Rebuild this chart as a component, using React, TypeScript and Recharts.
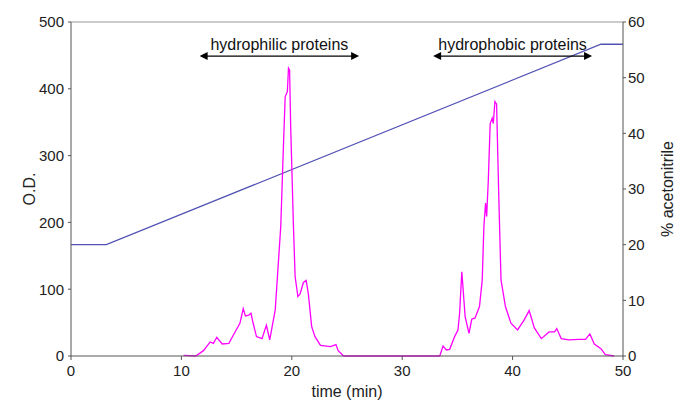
import {
  ComposedChart,
  Line,
  XAxis,
  YAxis,
  ReferenceLine,
} from 'recharts';

// chromatogram trace (time in min, O.D.)
const odTime = [
  10.2, 11.3, 12.0, 12.6, 12.9, 13.2, 13.7, 14.3, 14.7, 15.3, 15.6, 15.8, 16.1, 16.3, 16.5,
  16.8, 17.3, 17.7, 18.0, 18.5, 19.0, 19.25, 19.4, 19.6, 19.7, 19.8, 19.9, 20.15, 20.3, 20.55,
  20.75, 21.05, 21.3, 21.5, 21.8, 22.1, 22.6, 23.5, 24.0, 24.2, 24.7, 32.2, 33.4, 33.7, 34.0,
  34.3, 34.75, 35.05, 35.2, 35.4, 35.5, 35.7, 36.05, 36.3, 36.6, 37.0, 37.25, 37.4, 37.55,
  37.65, 37.8, 37.97, 38.15, 38.25, 38.4, 38.55, 38.75, 38.95, 39.35, 39.85, 40.45, 41.05,
  41.5, 41.97, 42.6, 43.3, 43.8, 44.0, 44.4, 45.1, 46.0, 46.6, 47.0, 47.4, 48.0, 48.4, 49.2,
];
const odValues = [
  1, 0, 8, 21, 19, 28, 18, 19, 31, 49, 71, 60, 61, 64, 49,
  29, 26, 46, 24, 69, 194, 318, 388, 396, 431, 428, 343, 194, 119, 89,
  93, 110, 113, 93, 44, 29, 16, 14, 17, 8, 0, 0, 0, 15, 9,
  10, 29, 39, 64, 126, 104, 59, 34, 55, 57, 74, 114, 194, 229,
  209, 263, 348, 356, 348, 381, 377, 238, 114, 74, 49, 39, 54,
  68, 42, 26, 36, 36, 41, 26, 24, 25, 25, 33, 18, 11, 2, 0,
];

// acetonitrile gradient (time in min, %)
const gradTime = [0, 3.2, 48.0, 50];
const gradValues = [20, 20, 56, 56];

const xTicks = [0, 10, 20, 30, 40, 50];
const odTicks = [0, 100, 200, 300, 400, 500];
const acnTicks = [0, 10, 20, 30, 40, 50, 60];

const odData = odTime.map((t, i) => ({ t, od: odValues[i] }));
const gradData = gradTime.map((t, i) => ({ t, acn: gradValues[i] }));

const FONT = '"Liberation Sans", Arial, sans-serif';
const tickStyle = { fontSize: 15, fill: '#222', fontFamily: FONT };

function DoubleArrow(props: any) {
  const { x1, y1, x2 } = props;
  const y = y1;
  const h = 4;
  const l = 8;
  return (
    <g>
      <line x1={x1 + 2} y1={y} x2={x2 - 2} y2={y} stroke="#000" strokeWidth={1.2} />
      <polygon points={`${x1},${y} ${x1 + l},${y - h} ${x1 + l},${y + h}`} fill="#000" />
      <polygon points={`${x2},${y} ${x2 - l},${y - h} ${x2 - l},${y + h}`} fill="#000" />
    </g>
  );
}

export default function App() {
  return (
    <div style={{ position: 'absolute', left: 0, top: 0, width: 676, height: 405, background: '#fff' }}>
      <ComposedChart
        width={676}
        height={405}
        margin={{ top: 22, right: 0, bottom: 0, left: 0 }}
        style={{ fontFamily: FONT }}
      >
        <XAxis
          type="number"
          dataKey="t"
          domain={[0, 50]}
          ticks={xTicks}
          height={49}
          stroke="#555"
          tickSize={4}
          tickMargin={5}
          tick={tickStyle}
          allowDataOverflow
          label={{ value: 'time (min)', position: 'insideBottom', offset: 8, style: { fontSize: 16, fill: '#222', fontFamily: FONT } }}
        />
        <YAxis
          yAxisId="od"
          domain={[0, 500]}
          ticks={odTicks}
          width={71}
          stroke="#555"
          tickSize={3}
          tickMargin={4}
          tick={tickStyle}
          label={{ value: 'O.D.', angle: -90, position: 'insideLeft', offset: 29, style: { textAnchor: 'middle', fontSize: 16, fill: '#222', fontFamily: FONT } }}
        />
        <YAxis
          yAxisId="acn"
          orientation="right"
          domain={[0, 60]}
          ticks={acnTicks}
          width={53}
          stroke="#555"
          tickSize={3}
          tickMargin={2}
          tick={tickStyle}
          label={{ value: '% acetonitrile', angle: -90, position: 'insideRight', offset: 9, style: { textAnchor: 'middle', fontSize: 16, fill: '#222', fontFamily: FONT } }}
        />
        <ReferenceLine yAxisId="od" y={500} stroke="#999" strokeWidth={1} />
        <Line
          yAxisId="acn"
          data={gradData}
          dataKey="acn"
          type="linear"
          stroke="#5252b4"
          strokeWidth={1.3}
          dot={false}
          isAnimationActive={false}
        />
        <Line
          yAxisId="od"
          data={odData}
          dataKey="od"
          type="linear"
          stroke="#ff00ff"
          strokeWidth={1.3}
          dot={false}
          isAnimationActive={false}
        />
        <ReferenceLine
          yAxisId="od"
          segment={[{ x: 11.65, y: 449 }, { x: 26.1, y: 449 }]}
          shape={DoubleArrow}
          label={{ value: 'hydrophilic proteins', position: 'top', offset: 6, style: { fontSize: 16, fill: '#111', fontFamily: FONT } }}
        />
        <ReferenceLine
          yAxisId="od"
          segment={[{ x: 32.8, y: 449 }, { x: 47.2, y: 449 }]}
          shape={DoubleArrow}
          label={{ value: 'hydrophobic proteins', position: 'top', offset: 6, style: { fontSize: 16, fill: '#111', fontFamily: FONT } }}
        />
      </ComposedChart>
    </div>
  );
}
